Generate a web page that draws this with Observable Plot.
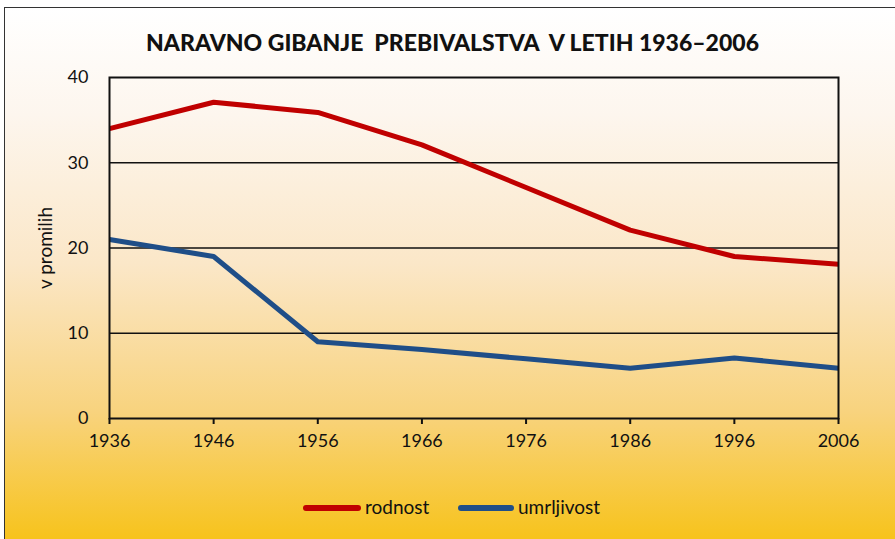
<!DOCTYPE html>
<html>
<head>
<meta charset="utf-8">
<script src="https://cdn.jsdelivr.net/npm/d3@7"></script>
<script src="https://cdn.jsdelivr.net/npm/@observablehq/plot@0.6"></script>
<style>
  html, body { margin: 0; padding: 0; background: #fff; }
  #page { position: relative; width: 895px; height: 539px; overflow: hidden; font-family: Lato, "Noto Sans", sans-serif; }
  #bg { position: absolute; left: 4px; top: 7px; width: 891px; height: 532px;
        border-top: 1.5px solid #333; border-left: 1.5px solid #333; box-sizing: border-box;
        background: linear-gradient(to bottom, #ffffff 0%, #fdf6ee 20%, #fbe7c8 48%, #f8d37e 76%, #f7c31c 100%); }
  #title { position: absolute; left: 0; width: 905px; top: 28px; text-align: center; font-weight: 900; font-size: 23px; white-space: pre; color: #111; }
  #chart { position: absolute; left: 0; top: 0; }
  #ylab { position: absolute; left: 44px; top: 248px; width: 0; height: 0; }
  #ylab span { position: absolute; transform: translate(-50%, -50%) rotate(-90deg); white-space: nowrap; font-size: 19px; color: #111; }
  .leg { position: absolute; top: 495px; font-size: 19px; color: #111; white-space: pre; }
  .sw { position: absolute; top: 505px; height: 6px; border-radius: 3px; }
</style>
</head>
<body>
<div id="page">
  <div id="bg"></div>
  <div id="title"></div>
  <div id="chart"></div>
  <div id="ylab"><span></span></div>
  <div class="sw" style="left:303px;width:58px;background:#C00000"></div>
  <div class="leg" style="left:365px">rodnost</div>
  <div class="sw" style="left:458px;width:56px;background:#1F4E88"></div>
  <div class="leg" style="left:518px">umrljivost</div>
</div>
<script>
const titleText = "NARAVNO GIBANJE  PREBIVALSTVA  V LETIH 1936–2006";
const years = [1936, 1946, 1956, 1966, 1976, 1986, 1996, 2006];
const rodnost = [34.0, 37.1, 35.9, 32.1, 27.1, 22.1, 19.0, 18.1];
const umrljivost = [21.0, 19.0, 9.0, 8.1, 7.0, 5.9, 7.1, 5.9];
const yTicks = [0, 10, 20, 30, 40];
const gridTicks = [10, 20, 30];
const yLabel = "v promilih";

document.getElementById("title").textContent = titleText;
document.querySelector("#ylab span").textContent = yLabel;

const data = [
  ...years.map((y, i) => ({year: y, value: rodnost[i], series: "rodnost"})),
  ...years.map((y, i) => ({year: y, value: umrljivost[i], series: "umrljivost"}))
];

const chart = Plot.plot({
  width: 895,
  height: 539,
  marginLeft: 109,
  marginRight: 57,
  marginTop: 77,
  marginBottom: 121,
  style: {background: "transparent", fontFamily: "Lato, 'Noto Sans', sans-serif", fontSize: "18px", color: "#111", overflow: "visible"},
  x: {domain: [1936, 2006]},
  y: {domain: [0, 40]},
  color: {domain: ["rodnost", "umrljivost"], range: ["#C00000", "#1F4E88"]},
  marks: [
    Plot.ruleY(gridTicks, {stroke: "#111", strokeWidth: 1.3}),
    Plot.line(data, {x: "year", y: "value", z: "series", stroke: "series", strokeWidth: 5, strokeLinejoin: "round", strokeLinecap: "butt"}),
    Plot.frame({stroke: "#111", strokeWidth: 2}),
    Plot.axisX({ticks: years, tickFormat: d => String(d), tickSize: 6, tickPadding: 10, strokeWidth: 2, stroke: "#111", label: null, fontSize: 18}),
    Plot.axisY({ticks: yTicks, tickSize: 0, tickPadding: 21, label: null, fontSize: 18})
  ]
});
document.getElementById("chart").appendChild(chart);
</script>
</body>
</html>
